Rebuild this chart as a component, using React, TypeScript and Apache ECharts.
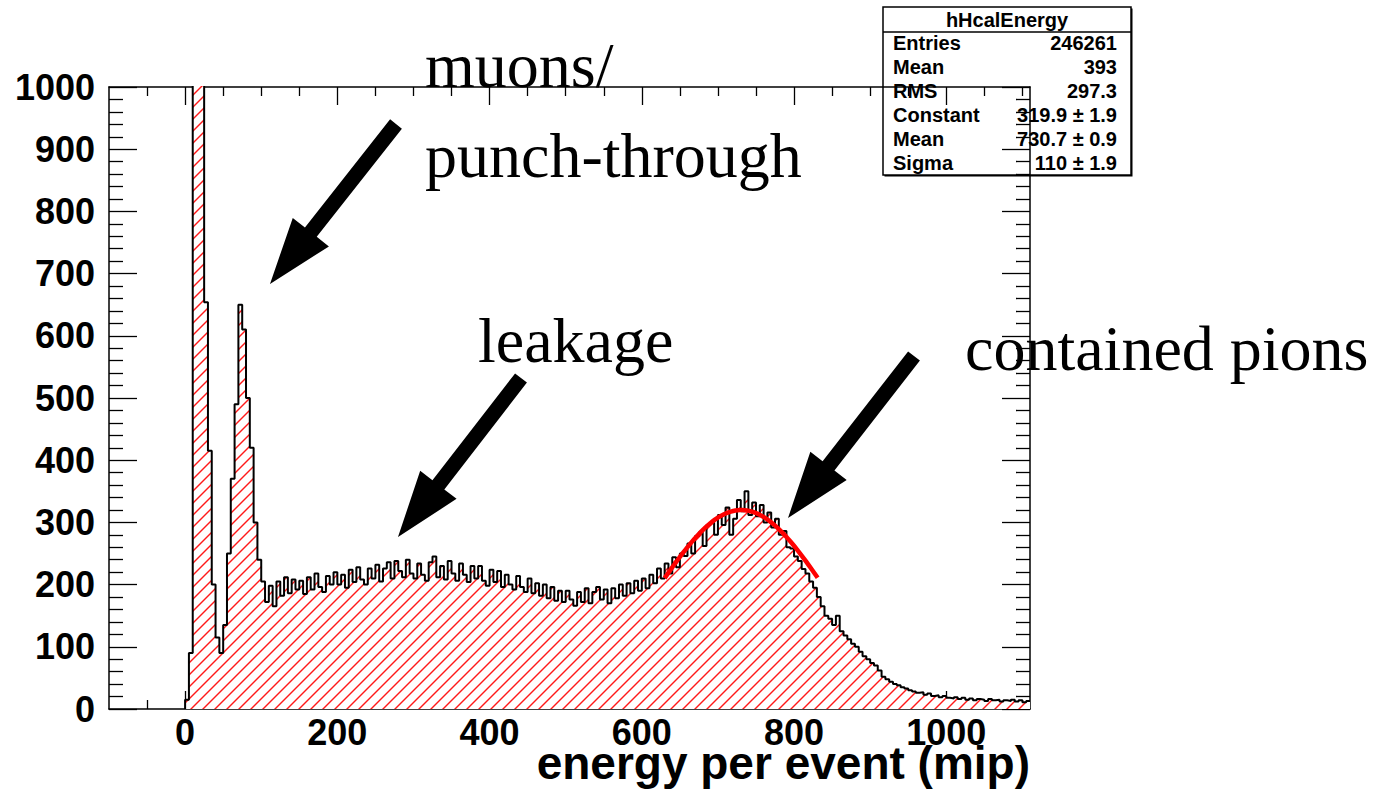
import { useEffect, useRef } from 'react';
import * as echarts from 'echarts';

// Histogram binning (energy per event, mip)
const binStart = 0;
const binWidth = 5;

// Bin contents, one per 5-mip bin starting at 0
const counts = [
  15, 90, 2600, 2600, 2600, 654, 415, 200, 115, 90,
  135, 250, 370, 490, 650, 610, 500, 420, 300, 240,
  205, 172, 198, 165, 205, 182, 212, 186, 208, 192,
  206, 185, 212, 192, 218, 196, 188, 214, 200, 220,
  200, 216, 195, 224, 204, 228, 208, 200, 226, 210,
  232, 205, 226, 236, 210, 238, 222, 212, 240, 218,
  210, 234, 216, 206, 236, 245, 212, 230, 208, 238,
  218, 206, 234, 216, 204, 230, 210, 230, 206, 198,
  224, 204, 222, 196, 216, 200, 192, 214, 196, 188,
  210, 186, 202, 182, 200, 178, 196, 174, 190, 172,
  190, 176, 166, 188, 172, 194, 170, 188, 196, 176,
  192, 170, 194, 178, 200, 182, 202, 186, 206, 190,
  210, 194, 216, 202, 226, 210, 234, 218, 244, 228,
  250, 246, 266, 250, 278, 284, 262, 296, 300, 280,
  312, 296, 324, 280, 306, 336, 318, 350, 312, 332,
  310, 328, 300, 316, 292, 306, 280, 286, 260, 258,
  245, 238, 225, 218, 205, 195, 180, 165, 150, 145,
  135, 150, 125, 118, 112, 105, 100, 92, 85, 80,
  74, 70, 62, 52, 48, 44, 40, 38, 35, 33,
  30, 28, 26, 27, 23, 25, 21, 22, 19, 21,
  18, 17, 19, 16, 18, 15, 17, 14, 16, 15,
  13, 16, 14, 15, 12, 14, 13, 15, 12, 14,
  11, 13,
];

// Axis ranges and ticks
const xMin = -100;
const xMax = 1110;
const yMin = 0;
const yMax = 1000;
const xMajorTicks = [0, 200, 400, 600, 800, 1000];
const xMinorTicks = [-50, 50, 100, 150, 250, 300, 350, 450, 500, 550, 650, 700, 750, 850, 900, 950, 1050, 1100];

// Gaussian fit result (as shown in the stats box) and its fit range
const fitConstant = 319.9;
const fitMean = 730.7;
const fitSigma = 110;
const fitFrom = 630;
const fitTo = 833;

// Stats box contents
const statsTitle = 'hHcalEnergy';
const statsLabels = ['Entries', 'Mean', 'RMS', 'Constant', 'Mean', 'Sigma'];
const statsValues = ['246261', '393', '297.3', '319.9 \u00b1 1.9', '730.7 \u00b1 0.9', '110 \u00b1 1.9'];

const xTitle = 'energy per event (mip)';

// Annotation labels and arrows (pixel positions on the canvas)
const noteTexts = [
  { text: 'muons/', x: 425, baseline: 87 },
  { text: 'punch-through', x: 425, baseline: 177 },
  { text: 'leakage', x: 478, baseline: 362 },
  { text: 'contained pions', x: 965, baseline: 370 },
];
const noteArrows = [
  { from: [396, 124], to: [270, 284] },
  { from: [521, 378], to: [398, 537] },
  { from: [914, 356], to: [788, 518] },
];

function arrowPolygon(from: number[], to: number[]) {
  const headLen = 66;
  const headHalf = 23;
  const shaftHalf = 7.5;
  const dx = from[0] - to[0];
  const dy = from[1] - to[1];
  const len = Math.hypot(dx, dy);
  const ux = dx / len;
  const uy = dy / len;
  const nx = -uy;
  const ny = ux;
  const bx = to[0] + ux * headLen;
  const by = to[1] + uy * headLen;
  return [
    [to[0], to[1]],
    [bx + nx * headHalf, by + ny * headHalf],
    [bx + nx * shaftHalf, by + ny * shaftHalf],
    [from[0] + nx * shaftHalf, from[1] + ny * shaftHalf],
    [from[0] - nx * shaftHalf, from[1] - ny * shaftHalf],
    [bx - nx * shaftHalf, by - ny * shaftHalf],
    [bx - nx * headHalf, by - ny * headHalf],
  ];
}

function hatchPattern() {
  const size = 12;
  const c = document.createElement('canvas');
  c.width = size;
  c.height = size;
  const ctx = c.getContext('2d')!;
  ctx.fillStyle = '#ffffff';
  ctx.fillRect(0, 0, size, size);
  ctx.strokeStyle = '#ff1a1a';
  ctx.lineWidth = 1.4;
  for (const k of [-1, 0, 1]) {
    ctx.beginPath();
    ctx.moveTo(k * size - 1, size + 1);
    ctx.lineTo(k * size + size + 1, -1);
    ctx.stroke();
  }
  return { image: c.toDataURL(), repeat: 'repeat', imageWidth: size, imageHeight: size };
}

const SANS = 'Liberation Sans, Arial, Helvetica, sans-serif';
const SERIF = 'Liberation Serif, Times New Roman, serif';
const plain = (v: number) => String(v);

export default function App() {
  const ref = useRef<HTMLDivElement>(null);

  useEffect(() => {
    if (!ref.current) return;
    const chart = echarts.init(ref.current, null, { renderer: 'svg' });

    const steps: number[][] = [[binStart, 0]];
    counts.forEach((c, i) => {
      const lo = binStart + i * binWidth;
      steps.push([lo, c], [lo + binWidth, c]);
    });

    const fit: number[][] = [];
    for (let x = fitFrom; x <= fitTo; x += 3) {
      const z = (x - fitMean) / fitSigma;
      fit.push([x, fitConstant * Math.exp(-0.5 * z * z)]);
    }

    const axisLine = { show: true, onZero: false, lineStyle: { color: '#000', width: 1.5 } };
    const tickStyle = { color: '#000', width: 1.3 };
    const xBase = { type: 'value', min: xMin, max: xMax, splitLine: { show: false } };

    const graphics: any[] = [];
    noteArrows.forEach((a) => {
      graphics.push({
        type: 'polygon',
        z: 50,
        shape: { points: arrowPolygon(a.from, a.to) },
        style: { fill: '#000' },
      });
    });
    noteTexts.forEach((t) => {
      graphics.push({
        type: 'text',
        z: 50,
        x: t.x,
        y: t.baseline - 22,
        style: {
          text: t.text,
          font: `64px ${SERIF}`,
          fill: '#000',
          align: 'left',
          verticalAlign: 'middle',
        },
      });
    });
    graphics.push({
      type: 'text',
      z: 50,
      x: 1030,
      y: 763,
      style: {
        text: xTitle,
        font: `bold 46px ${SANS}`,
        lineHeight: 34,
        fill: '#000',
        align: 'right',
        verticalAlign: 'middle',
      },
    });

    // Stats box
    const bx = 883;
    const by = 7;
    const bw = 248;
    const bh = 168;
    const rows: any[] = [
      { type: 'rect', shape: { x: bx + 1.5, y: by + 1.5, width: bw, height: bh }, style: { fill: '#000' } },
      { type: 'rect', shape: { x: bx, y: by, width: bw, height: bh }, style: { fill: '#fff', stroke: '#000', lineWidth: 1.5 } },
      { type: 'line', shape: { x1: bx, y1: by + 25, x2: bx + bw, y2: by + 25 }, style: { stroke: '#000', lineWidth: 1.5 } },
      {
        type: 'text',
        x: bx + bw / 2,
        y: by + 13,
        style: { text: statsTitle, font: `bold 20px ${SANS}`, fill: '#000', align: 'center', verticalAlign: 'middle' },
      },
    ];
    statsLabels.forEach((label, i) => {
      const cy = by + 36 + i * 24;
      rows.push({
        type: 'text',
        x: bx + 10,
        y: cy,
        style: { text: label, font: `bold 20px ${SANS}`, fill: '#000', align: 'left', verticalAlign: 'middle' },
      });
      rows.push({
        type: 'text',
        x: bx + bw - 14,
        y: cy,
        style: { text: statsValues[i], font: `bold 20px ${SANS}`, fill: '#000', align: 'right', verticalAlign: 'middle' },
      });
    });
    graphics.push({ type: 'group', z: 100, children: rows });

    chart.setOption({
      animation: false,
      backgroundColor: '#fff',
      grid: { left: 109, right: 343, top: 87, bottom: 80, containLabel: false },
      xAxis: [
        {
          ...xBase,
          position: 'bottom',
          axisLine,
          axisTick: { show: true, inside: true, length: 18, customValues: xMajorTicks, lineStyle: tickStyle },
          axisLabel: {
            customValues: xMajorTicks,
            formatter: plain,
            fontSize: 36,
            lineHeight: 28,
            fontWeight: 'bold',
            fontFamily: SANS,
            color: '#000',
            margin: 9,
          },
        },
        {
          ...xBase,
          position: 'bottom',
          axisLine: { show: false, onZero: false },
          axisTick: { show: true, inside: true, length: 9, customValues: xMinorTicks, lineStyle: tickStyle },
          axisLabel: { show: false },
        },
        {
          ...xBase,
          position: 'top',
          axisLine,
          axisTick: { show: true, inside: true, length: 18, customValues: xMajorTicks, lineStyle: tickStyle },
          axisLabel: { show: false },
        },
        {
          ...xBase,
          position: 'top',
          axisLine: { show: false, onZero: false },
          axisTick: { show: true, inside: true, length: 9, customValues: xMinorTicks, lineStyle: tickStyle },
          axisLabel: { show: false },
        },
      ],
      yAxis: [
        {
          type: 'value',
          min: yMin,
          max: yMax,
          interval: 100,
          position: 'left',
          axisLine,
          axisTick: { show: true, inside: true, length: 28, lineStyle: tickStyle },
          minorTick: { show: true, splitNumber: 5, length: 14, lineStyle: tickStyle },
          splitLine: { show: false },
          minorSplitLine: { show: false },
          axisLabel: {
            formatter: plain,
            fontSize: 36,
            fontWeight: 'bold',
            fontFamily: SANS,
            color: '#000',
            margin: 14,
            padding: [6, 0, 0, 0],
          },
        },
        {
          type: 'value',
          min: yMin,
          max: yMax,
          interval: 100,
          position: 'right',
          axisLine,
          axisTick: { show: true, inside: true, length: 28, lineStyle: tickStyle },
          minorTick: { show: true, splitNumber: 5, length: 14, lineStyle: tickStyle },
          splitLine: { show: false },
          axisLabel: { show: false },
        },
      ],
      series: [
        {
          type: 'line',
          xAxisIndex: 0,
          yAxisIndex: 0,
          data: steps,
          symbol: 'none',
          clip: true,
          silent: true,
          lineStyle: { color: '#000', width: 2 },
          areaStyle: { color: hatchPattern() as any, opacity: 1 },
          z: 2,
        },
        {
          type: 'line',
          xAxisIndex: 0,
          yAxisIndex: 0,
          data: fit,
          symbol: 'none',
          smooth: false,
          clip: true,
          silent: true,
          lineStyle: { color: '#ff0000', width: 4.5 },
          z: 3,
        },
      ],
      graphic: graphics,
    });

    return () => chart.dispose();
  }, []);

  return (
    <div
      ref={ref}
      style={{ position: 'fixed', left: 0, top: 0, width: 1373, height: 789, background: '#fff' }}
    />
  );
}
